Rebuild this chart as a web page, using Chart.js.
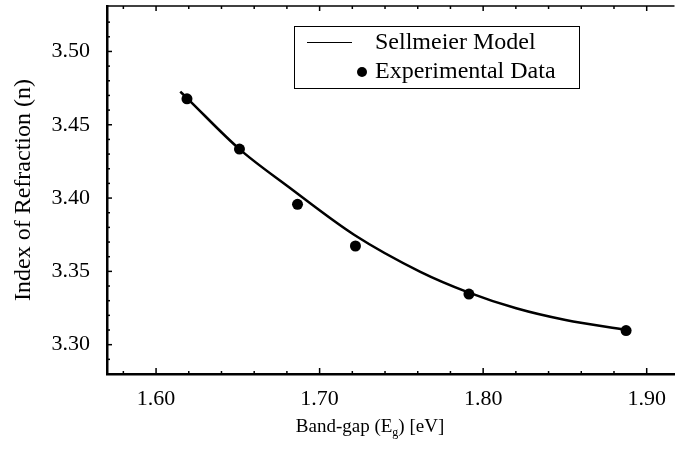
<!DOCTYPE html>
<html>
<head>
<meta charset="utf-8">
<script src="https://cdn.jsdelivr.net/npm/chart.js@4/dist/chart.umd.min.js"></script>
<style>
  html, body { margin: 0; padding: 0; background: #fff; overflow: hidden; }
  #wrap { width: 680px; height: 449px; }
</style>
</head>
<body>
<div id="wrap"><canvas id="c" width="680" height="449"></canvas></div>
<script>
const expX = [1.6189, 1.6510, 1.6865, 1.7219, 1.7913, 1.8874];
const expY = [3.4677, 3.4334, 3.3957, 3.3673, 3.3345, 3.3096];

// Sellmeier fit curve, sampled along the drawn line
const sellX = [1.6148, 1.6189, 1.6510, 1.6809, 1.7213, 1.7616, 1.7909, 1.8202, 1.8504, 1.8874];
const sellY = [3.4726, 3.4682, 3.4334, 3.4077, 3.3748, 3.3497, 3.3357, 3.3248, 3.3168, 3.3100];

// axis ticks
const xMajor = [1.60, 1.70, 1.80, 1.90];
const xMinor = [1.58, 1.62, 1.64, 1.66, 1.68, 1.72, 1.74, 1.76, 1.78, 1.82, 1.84, 1.86, 1.88];
const yMajor = [3.30, 3.35, 3.40, 3.45, 3.50];
const yMinor = [3.29, 3.31, 3.32, 3.33, 3.34, 3.36, 3.37, 3.38, 3.39, 3.41, 3.42, 3.43, 3.44, 3.46, 3.47, 3.48, 3.49, 3.51, 3.52];

const serif = '"Liberation Serif", "Times New Roman", serif';

// inward tick marks, top frame line, x title and legend box
const frame = {
  id: 'frame',
  afterDraw(chart) {
    const ctx = chart.ctx, a = chart.chartArea;
    const xs = chart.scales.x, ys = chart.scales.y;
    ctx.save();
    ctx.strokeStyle = '#000';
    ctx.lineWidth = 1.5;
    ctx.beginPath();
    ctx.moveTo(a.left, a.top);
    ctx.lineTo(a.right, a.top);
    ctx.stroke();

    const tick = (x1, y1, x2, y2) => { ctx.beginPath(); ctx.moveTo(x1, y1); ctx.lineTo(x2, y2); ctx.stroke(); };
    xMajor.forEach(v => {
      const p = xs.getPixelForValue(v);
      tick(p, a.bottom, p, a.bottom - 6);
      tick(p, a.top, p, a.top + 5);
    });
    xMinor.forEach(v => {
      const p = xs.getPixelForValue(v);
      tick(p, a.bottom, p, a.bottom - 3);
      tick(p, a.top, p, a.top + 3);
    });
    yMajor.forEach(v => {
      const p = ys.getPixelForValue(v);
      tick(a.left, p, a.left + 5, p);
    });
    yMinor.forEach(v => {
      const p = ys.getPixelForValue(v);
      tick(a.left, p, a.left + 3, p);
    });

    // x axis title with subscript
    ctx.fillStyle = '#000';
    ctx.textBaseline = 'alphabetic';
    const big = '19px ' + serif, small = '12px ' + serif;
    const parts = [['Band-gap (E', big, 0], ['g', small, 4], [') [eV]', big, 0]];
    let w = 0;
    parts.forEach(p => { ctx.font = p[1]; w += ctx.measureText(p[0]).width; });
    let x = 370 - w / 2;
    const base = 432;
    parts.forEach(p => {
      ctx.font = p[1];
      ctx.fillText(p[0], x, base + p[2]);
      x += ctx.measureText(p[0]).width;
    });

    // legend box
    const bx = 294, by = 26, bw = 285, bh = 62;
    ctx.lineWidth = 1;
    ctx.strokeRect(bx + 0.5, by + 0.5, bw, bh);
    ctx.font = '24px ' + serif;
    ctx.textBaseline = 'middle';
    const ds = chart.data.datasets;
    tick(307, 42.5, 352, 42.5);
    ctx.fillText(ds[0].label, 375, 43);
    ctx.beginPath();
    ctx.arc(362, 72, 5, 0, Math.PI * 2);
    ctx.fill();
    ctx.fillText(ds[1].label, 375, 72);
    ctx.restore();
  }
};

new Chart(document.getElementById('c'), {
  type: 'scatter',
  data: {
    datasets: [
      {
        label: 'Sellmeier Model',
        data: sellX.map((x, i) => ({ x: x, y: sellY[i] })),
        showLine: true,
        borderColor: '#000',
        borderWidth: 2.5,
        pointRadius: 0,
        cubicInterpolationMode: 'monotone',
        fill: false
      },
      {
        label: 'Experimental Data',
        data: expX.map((x, i) => ({ x: x, y: expY[i] })),
        showLine: false,
        backgroundColor: '#000',
        borderColor: '#000',
        pointRadius: 5.5,
        pointBorderWidth: 0
      }
    ]
  },
  options: {
    responsive: false,
    animation: false,
    layout: { padding: { top: 6, right: 0, left: 0, bottom: 0 } },
    plugins: { legend: { display: false }, tooltip: { enabled: false } },
    scales: {
      x: {
        type: 'linear',
        min: 1.57,
        max: 1.917,
        afterBuildTicks: s => { s.ticks = xMajor.map(v => ({ value: v })); },
        afterFit: s => { s.height = 75; s.paddingLeft = 0; s.paddingRight = 0; },
        grid: { display: false, drawTicks: false },
        border: { display: true, color: '#000', width: 2.5 },
        ticks: {
          color: '#000',
          padding: 12,
          maxRotation: 0,
          font: { family: serif, size: 22 },
          callback: v => Number(v).toFixed(2)
        }
      },
      y: {
        type: 'linear',
        min: 3.28,
        max: 3.531,
        afterBuildTicks: s => { s.ticks = yMajor.map(v => ({ value: v })); },
        afterFit: s => { s.width = 107; s.paddingTop = 0; s.paddingBottom = 0; },
        grid: { display: false, drawTicks: false },
        border: { display: true, color: '#000', width: 2.5 },
        ticks: {
          color: '#000',
          padding: 17,
          font: { family: serif, size: 22 },
          callback: v => Number(v).toFixed(2)
        },
        title: {
          display: true,
          text: 'Index of Refraction (n)',
          color: '#000',
          font: { family: serif, size: 24 },
          padding: { top: 9, bottom: 0 }
        }
      }
    }
  },
  plugins: [frame]
});
</script>
</body>
</html>
